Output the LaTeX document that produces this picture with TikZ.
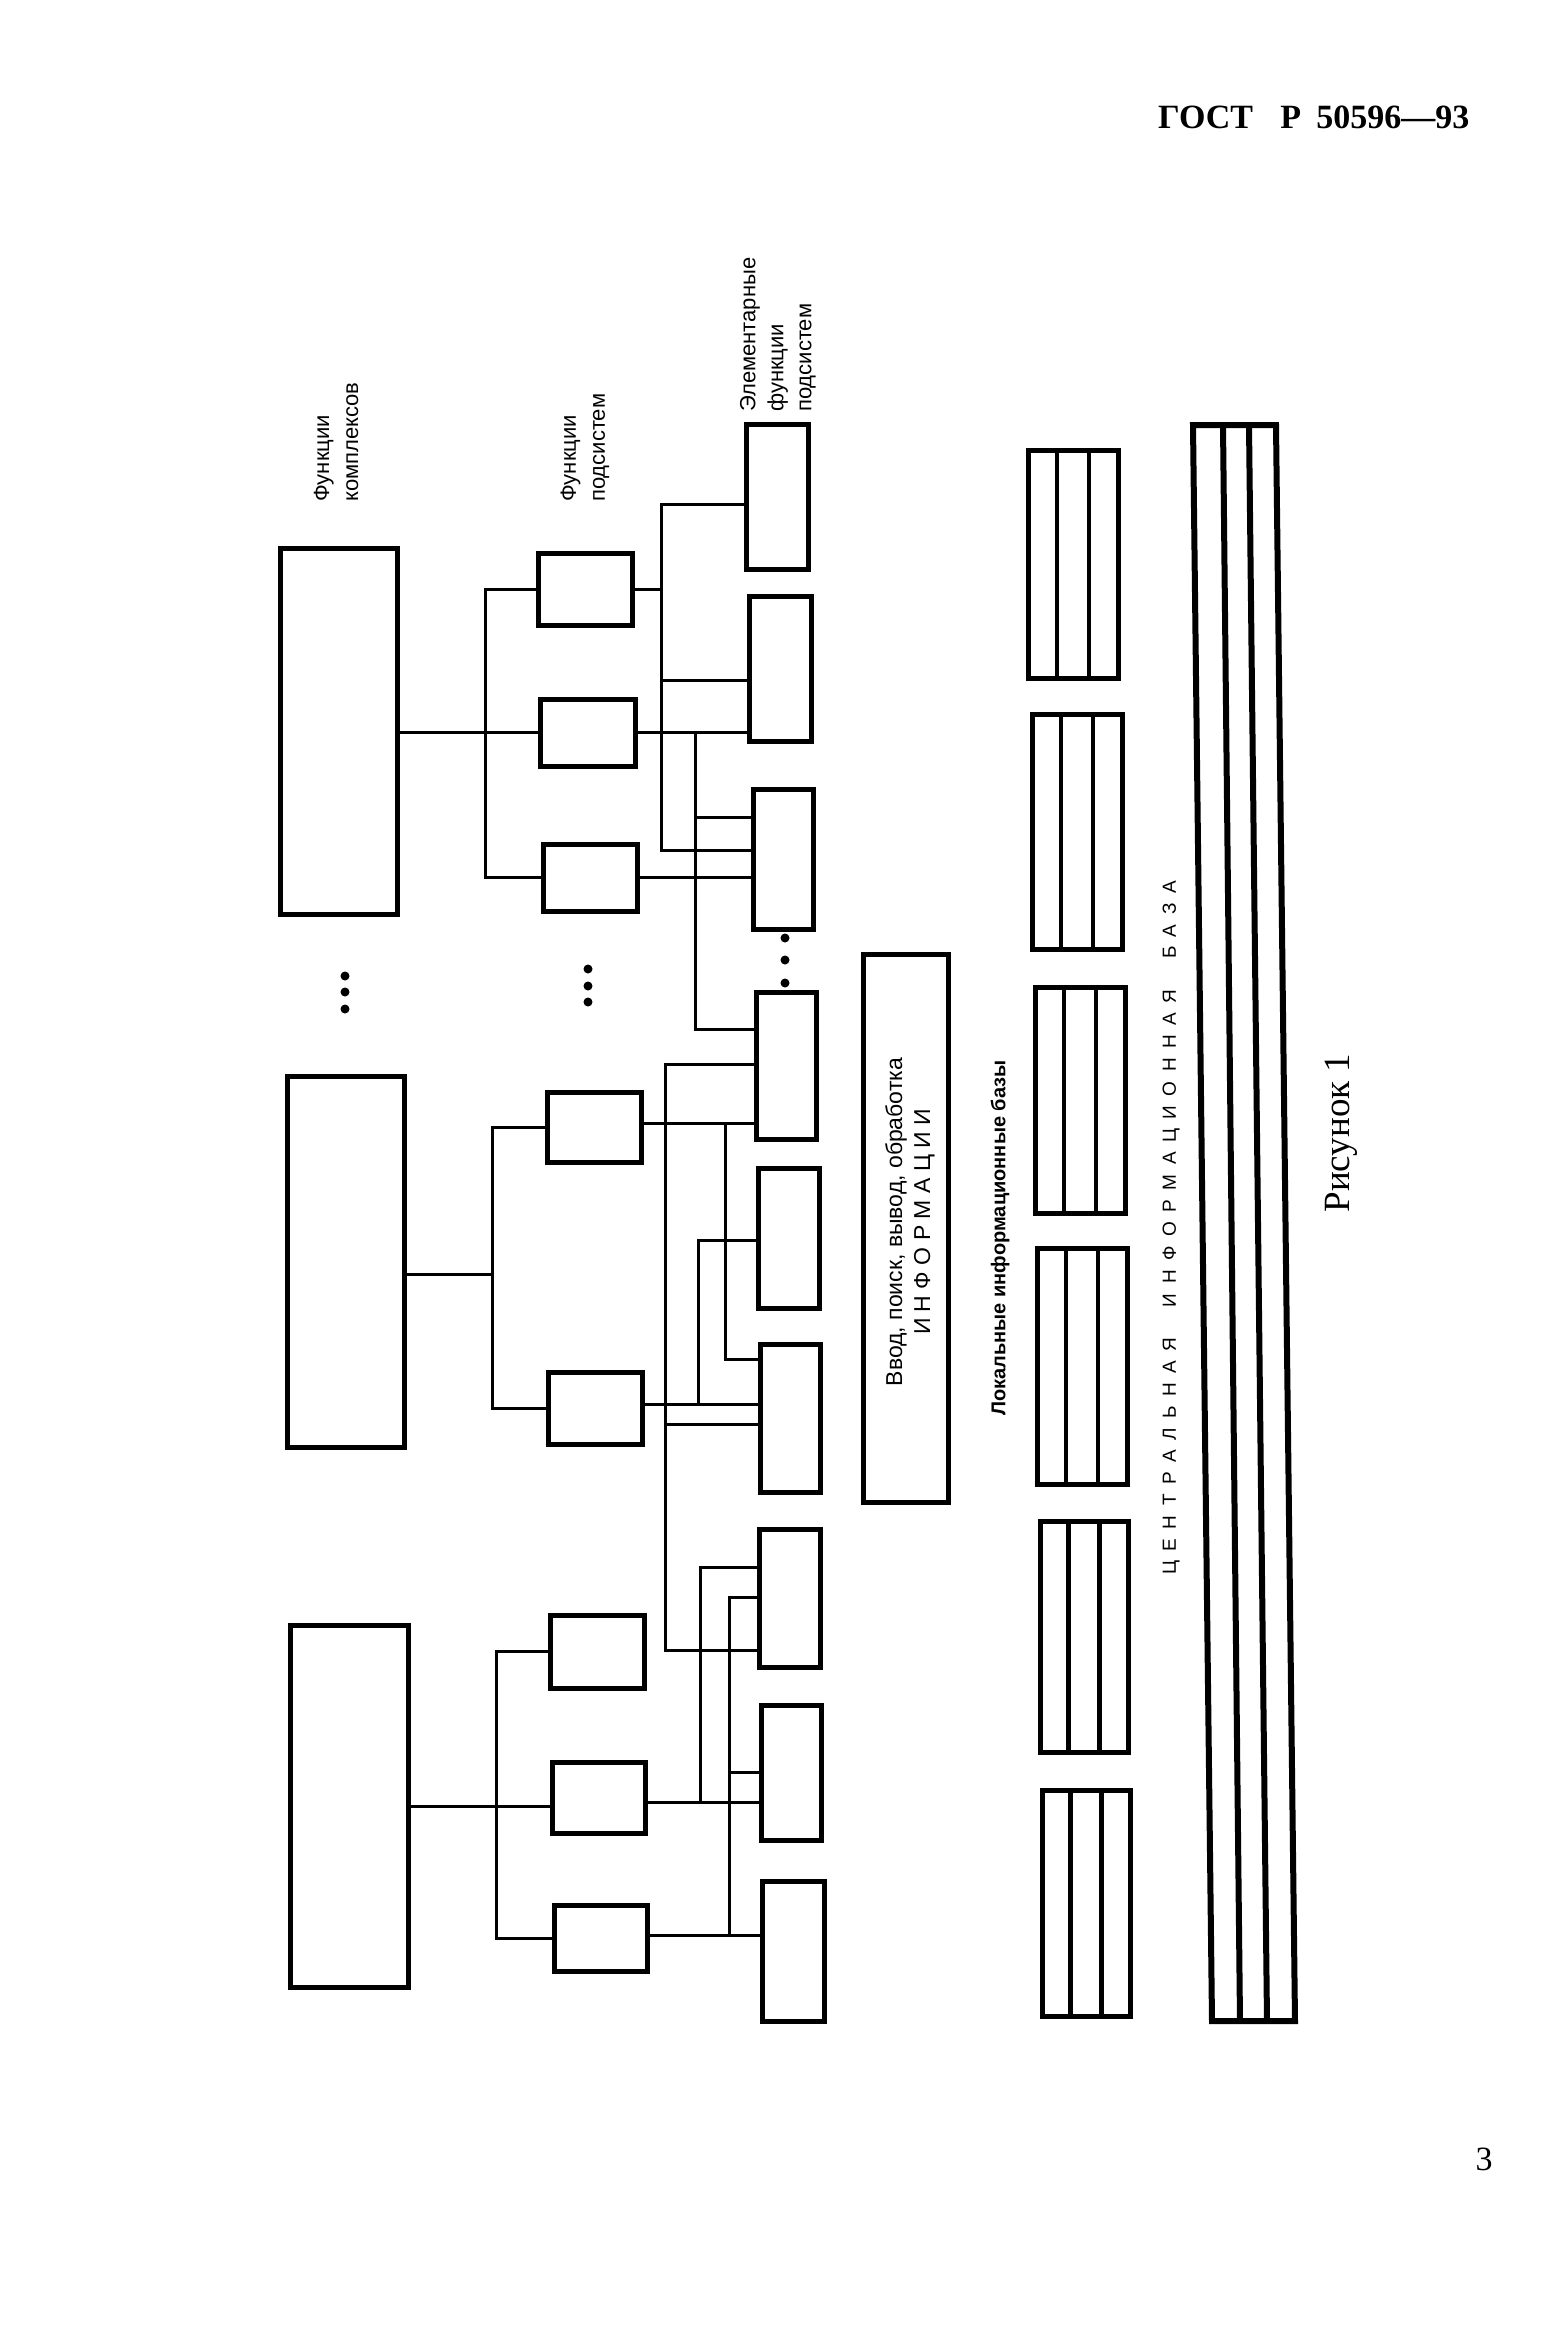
\documentclass[tikz,border=0pt]{standalone}
\usepackage{fontspec}
\setmainfont{Liberation Serif}
\setsansfont{Liberation Sans}
\usetikzlibrary{calc}
\newcommand\gp{\hspace{0.5em}}
\newcommand\mkbox[5]{\node[boxst, minimum width={#4-#2}, minimum height={#5-#3}] (#1) at ({(#2+#4)/2},{(#3+#5)/2}) {};}
\begin{document}
\begin{tikzpicture}[x=1pt,y=-1pt,
  boxst/.style={draw, line width=5pt, inner sep=0pt},
  conn/.style={line width=3pt},
  dotst/.style={circle, fill, inner sep=0pt, minimum size=9pt},
  lbl/.style={font=\sffamily\fontsize{22}{29}\selectfont, rotate=90, anchor=west, align=left, inner sep=0pt},
]
\useasboundingbox (0,0) rectangle (1556,2346);
\fill[white] (0,0) rectangle (1556,2346);

% header and page number
\node[anchor=base west, font=\bfseries\fontsize{34}{36}\selectfont, inner sep=0pt] (hdr) at (1158,128) {ГОСТ\hspace{0.8em}Р\hspace{0.45em}50596—93};
\node[anchor=base, font=\fontsize{34}{36}\selectfont, inner sep=0pt] (pg) at (1484,2170) {3};

% column 1: functions of complexes
\mkbox{A1}{280}{548}{397}{914}
\mkbox{A2}{287}{1076}{404}{1447}
\mkbox{A3}{290}{1625}{408}{1987}
% column 2: functions of subsystems
\mkbox{B1}{538}{553}{632}{625}
\mkbox{B2}{540}{699}{635}{766}
\mkbox{B3}{543}{844}{637}{911}
\mkbox{B4}{547}{1092}{641}{1162}
\mkbox{B5}{548}{1372}{642}{1444}
\mkbox{B6}{550}{1615}{644}{1688}
\mkbox{B7}{552}{1762}{645}{1833}
\mkbox{B8}{554}{1905}{647}{1971}
% column 3: elementary functions
\mkbox{C1}{746}{424}{808}{569}
\mkbox{C2}{749}{596}{811}{741}
\mkbox{C3}{753}{789}{813}{929}
\mkbox{C4}{756}{992}{816}{1139}
\mkbox{C5}{758}{1168}{819}{1308}
\mkbox{C6}{760}{1344}{820}{1492}
\mkbox{C7}{759}{1529}{820}{1667}
\mkbox{C8}{761}{1705}{821}{1840}
\mkbox{C9}{762}{1881}{824}{2021}
% info processing box
\mkbox{E}{863}{954}{948}{1502}
% local information bases
\mkbox{D1}{1028}{450}{1118}{678}
\mkbox{D2}{1032}{714}{1122}{949}
\mkbox{D3}{1035}{987}{1125}{1213}
\mkbox{D4}{1037}{1248}{1127}{1484}
\mkbox{D5}{1040}{1521}{1128}{1752}
\mkbox{D6}{1042}{1790}{1130}{2016}
\foreach \d in {D1,D2,D3,D4,D5,D6}{
  \draw[line width=4.5pt] ($(\d.north west)!1/3!(\d.north east)$) -- ($(\d.south west)!1/3!(\d.south east)$);
  \draw[line width=4.5pt] ($(\d.north west)!2/3!(\d.north east)$) -- ($(\d.south west)!2/3!(\d.south east)$);
}

% central information base
\draw[line width=6pt] (1193,425) -- (1276,425) -- (1295,2021) -- (1212,2021) -- cycle;
\draw[line width=6pt] (1223,425) -- (1240,2021);
\draw[line width=6pt] (1249,425) -- (1267,2021);

% dots
\node[dotst] (d11) at (345,976) {};
\node[dotst] (d12) at (345,992) {};
\node[dotst] (d13) at (345,1009) {};
\node[dotst] (d21) at (588,969) {};
\node[dotst] (d22) at (588,986) {};
\node[dotst] (d23) at (588,1002) {};
\node[dotst] (d31) at (785,938) {};
\node[dotst] (d32) at (785,960) {};
\node[dotst] (d33) at (785,983) {};

% group 1 connectors
\coordinate (bus1) at (485,0);
\coordinate (t1) at (661,0);
\coordinate (t2) at (695,0);
\draw[conn] (A1.east |- B2.west) -- (B2.west);
\draw[conn] (B1.west) -| (bus1 |- B3.west) -- (B3.west);
\draw[conn] (C1.west |- 0,504) -| (t1 |- 0,850) -- (C3.west |- 0,850);
\draw[conn] (t1 |- 0,680) -- (C2.west |- 0,680);
\draw[conn] (B1.east) -- (B1.east -| t1);
\draw[conn] (B2.east) -- (B2.east -| C2.west);
\draw[conn] (B2.east -| t2) |- (C4.west |- 0,1029);
\draw[conn] (t2 |- 0,817) -- (C3.west |- 0,817);
\draw[conn] (B3.east) -- (B3.east -| C3.west);

% group 2 connectors
\coordinate (bus2) at (492,0);
\coordinate (t3) at (665,0);
\coordinate (t4) at (725,0);
\coordinate (t5) at (698,0);
\draw[conn] (A2.east |- 0,1274) -- (bus2 |- 0,1274);
\draw[conn] (B4.west) -| (bus2 |- B5.west) -- (B5.west);
\draw[conn] (C4.west |- 0,1064) -| (t3 |- 0,1650) -- (C7.west |- 0,1650);
\draw[conn] (t3 |- 0,1424) -- (C6.west |- 0,1424);
\draw[conn] (B4.east |- 0,1123) -- (C4.west |- 0,1123);
\draw[conn] (t4 |- 0,1123) |- (C6.west |- 0,1359);
\draw[conn] (B5.east |- 0,1404) -- (C6.west |- 0,1404);
\draw[conn] (C5.west |- 0,1240) -| (t5 |- 0,1404);

% group 3 connectors
\coordinate (bus3) at (496,0);
\coordinate (t6) at (700,0);
\coordinate (t7) at (729,0);
\draw[conn] (A3.east) -- (A3.east -| B7.west);
\draw[conn] (B6.west) -| (bus3 |- B8.west) -- (B8.west);
\draw[conn] (C7.west |- 0,1567) -| (t6 |- 0,1802);
\draw[conn] (B7.east |- 0,1802) -- (C8.west |- 0,1802);
\draw[conn] (C7.west |- 0,1597) -| (t7 |- 0,1935);
\draw[conn] (t7 |- 0,1772) -- (C8.west |- 0,1772);
\draw[conn] (B8.east |- 0,1935) -- (C9.west |- 0,1935);

% labels
\node[lbl] (l1) at (336,502) {Функции\\комплексов};
\node[lbl] (l2) at (585,502) {Функции\\подсистем};
\node[lbl, font=\sffamily\fontsize{22}{28}\selectfont] (l3) at (778,412) {Элементарные\\функции\\подсистем};
\node[rotate=90, font=\sffamily\fontsize{23}{28}\selectfont, align=center, inner sep=0pt] (et) at (910,1222) {Ввод, поиск, вывод, обработка\\И Н Ф О Р М А Ц И И};
\node[rotate=90, font=\sffamily\bfseries\fontsize{20}{24}\selectfont, inner sep=0pt] (ll) at (1000,1238) {Локальные информационные базы};
\node[rotate=90, font=\sffamily\fontsize{19}{24}\selectfont, inner sep=0pt] (ct) at (1171,1228) {Ц\gp Е\gp Н\gp Т\gp Р\gp А\gp Л\gp Ь\gp Н\gp А\gp Я\hspace{1.6em}И\gp Н\gp Ф\gp О\gp Р\gp М\gp А\gp Ц\gp И\gp О\gp Н\gp Н\gp А\gp Я\hspace{1.6em}Б\gp А\gp З\gp А};
\node[rotate=90, font=\fontsize{37}{40}\selectfont, inner sep=0pt] (fig) at (1341,1133) {Рисунок 1};
\end{tikzpicture}
\end{document}
